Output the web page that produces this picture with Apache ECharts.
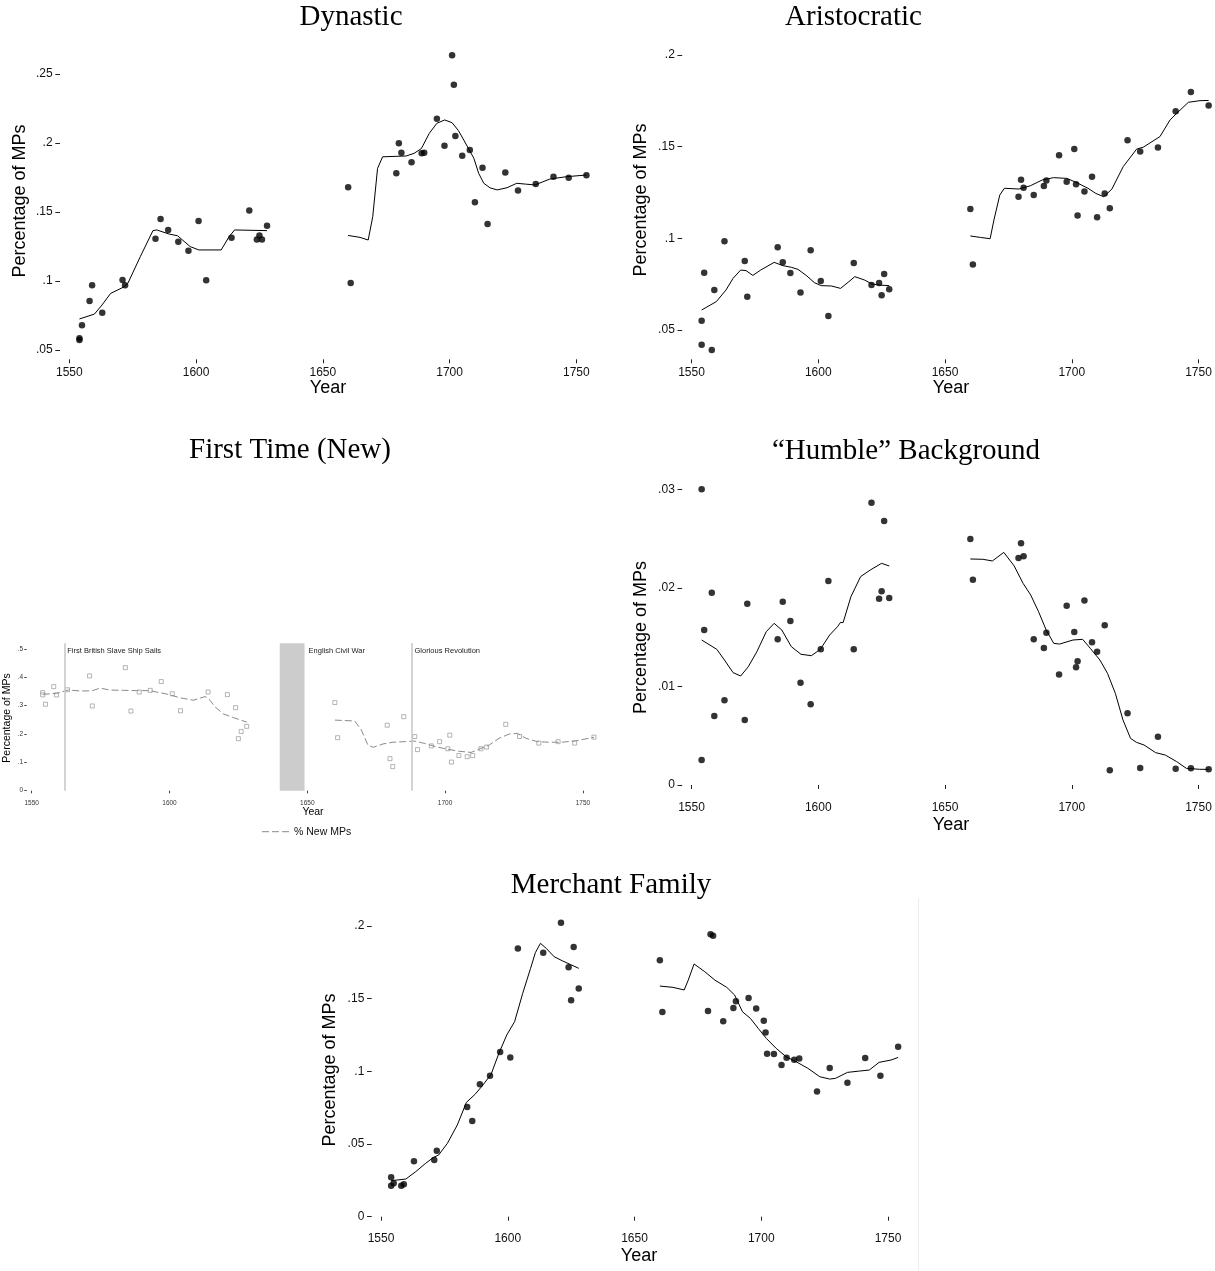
<!DOCTYPE html>
<html><head><meta charset="utf-8">
<script src="https://cdn.jsdelivr.net/npm/echarts@6/dist/echarts.min.js"></script>
<style>html,body{margin:0;padding:0;background:#fff}#c{width:1215px;height:1271px}</style>
</head><body><div id="c"></div>
<script>
// ---------- DATA ----------
const yearsL = [1554, 1554, 1555, 1558, 1559, 1563, 1571, 1572, 1584, 1586, 1589, 1593, 1597, 1601, 1604, 1614, 1621, 1624, 1625, 1626, 1628];
const yearsR = [1660, 1661, 1679, 1680, 1681, 1685, 1689, 1690, 1695, 1698, 1701, 1701.7, 1702.3, 1705, 1708, 1710, 1713, 1715, 1722, 1727, 1734, 1741, 1747, 1754];

const xTicks = [1550, 1600, 1650, 1700, 1750];
const dynTicks = [0.05, 0.1, 0.15, 0.2, 0.25];
const aristTicks = [0.05, 0.1, 0.15, 0.2];
const humTicks = [0, 0.01, 0.02, 0.03];
const merTicks = [0, 0.05, 0.1, 0.15, 0.2];
const ftTicks = [0, 0.1, 0.2, 0.3, 0.4, 0.5];

const dynL = [0.0585, 0.0572, 0.068, 0.0855, 0.097, 0.077, 0.1007, 0.097, 0.1307, 0.145, 0.137, 0.1285, 0.122, 0.1435, 0.1005, 0.1314, 0.151, 0.130, 0.133, 0.130, 0.140];
const dynR = [0.168, 0.0985, 0.178, 0.1998, 0.193, 0.186, 0.1925, 0.193, 0.2176, 0.198, 0.2635, 0.2423, 0.205, 0.1908, 0.195, 0.157, 0.182, 0.1413, 0.1787, 0.1655, 0.1703, 0.1756, 0.1749, 0.1766];
const dynLineL = [[1554,0.0725],[1559.9,0.076],[1562.9,0.0826],[1566.3,0.091],[1571.2,0.0954],[1573.1,0.0983],[1578,0.1176],[1583,0.1365],[1584.5,0.137],[1589.4,0.134],[1592.7,0.1328],[1597.7,0.1249],[1601.1,0.1225],[1609.9,0.1225],[1613,0.132],[1615.2,0.137],[1628,0.1365]];
const dynLineR = [[1660,0.133],[1664.7,0.1316],[1667.9,0.1297],[1669.7,0.1466],[1671.6,0.1816],[1673.6,0.190],[1682.9,0.1906],[1686,0.1925],[1688.9,0.196],[1692,0.207],[1695,0.2143],[1698.1,0.2167],[1701,0.2147],[1703.5,0.209],[1705.6,0.2022],[1709.6,0.1889],[1711.5,0.178],[1713.5,0.1708],[1716,0.1675],[1718.8,0.166],[1722.7,0.1676],[1726.5,0.1708],[1730,0.1702],[1733.7,0.1696],[1739.6,0.1739],[1746.2,0.1756],[1754,0.1768]];

const aristL = [0.0551, 0.042, 0.0813, 0.0391, 0.0718, 0.0984, 0.0876, 0.0682, 0.0951, 0.0869, 0.0811, 0.0705, 0.0935, 0.0767, 0.0576, 0.0865, 0.0745, 0.0756, 0.0689, 0.0805, 0.0722];
const aristR = [0.116, 0.0858, 0.1227, 0.132, 0.1276, 0.1236, 0.1285, 0.1316, 0.1453, 0.1309, 0.1487, 0.1295, 0.1125, 0.1255, 0.1336, 0.1115, 0.1245, 0.1164, 0.1535, 0.1473, 0.1495, 0.1693, 0.1798, 0.1724];
const aristLineL = [[1554,0.0609],[1559.8,0.0655],[1563.6,0.0718],[1566.4,0.0782],[1569.4,0.0827],[1571.5,0.0824],[1574.2,0.0798],[1577.3,0.0827],[1582.6,0.0869],[1586.1,0.0851],[1589.4,0.0842],[1592,0.0831],[1595.5,0.0795],[1598.5,0.0758],[1601.2,0.0742],[1605.3,0.074],[1608.8,0.0727],[1612.1,0.0764],[1614.4,0.0791],[1618.2,0.0773],[1621.2,0.0751],[1624.2,0.0745],[1628,0.0742]];
const aristLineR = [[1660,0.1013],[1664,0.1005],[1667.8,0.0998],[1669.3,0.110],[1671.6,0.1236],[1673.4,0.1273],[1679.2,0.1269],[1683.7,0.1287],[1688.3,0.1318],[1692.8,0.1331],[1698.1,0.1327],[1701.9,0.1304],[1706.4,0.1273],[1709.5,0.1245],[1712.6,0.1227],[1715.8,0.1268],[1720.3,0.1391],[1725.6,0.1487],[1728.2,0.1497],[1734.8,0.1555],[1738.8,0.1646],[1741.4,0.1682],[1746,0.1742],[1750.6,0.1751],[1754,0.1752]];

const humL = [0.0300, 0.00254, 0.01573, 0.0195, 0.0070, 0.0086, 0.0066, 0.0184, 0.01478, 0.0186, 0.01664, 0.01038, 0.0082, 0.01376, 0.0207, 0.01376, 0.02864, 0.0189, 0.01965, 0.02678, 0.01897];
const humR = [0.02496, 0.02083, 0.02303, 0.02452, 0.0232, 0.01478, 0.0139, 0.01545, 0.0112, 0.01819, 0.01552, 0.01194, 0.01255, 0.01873, 0.01447, 0.01353, 0.0162, 0.00149, 0.00727, 0.00172, 0.0049, 0.00166, 0.00169, 0.00159];
const humLineL = [[1554,0.01471],[1560,0.01376],[1563,0.01268],[1566.4,0.0114],[1569.4,0.01106],[1572.4,0.012],[1575.8,0.01353],[1579.5,0.01556],[1582.6,0.0164],[1585.6,0.01573],[1589.4,0.01403],[1593.2,0.01326],[1597.3,0.01312],[1600.8,0.01376],[1604.5,0.01522],[1607.6,0.01606],[1608.8,0.0165],[1609.8,0.01647],[1612.9,0.01911],[1616.7,0.02114],[1620.5,0.02181],[1625,0.02249],[1628,0.02222]];
const humLineR = [[1660,0.02293],[1664.9,0.0229],[1668.7,0.02273],[1673.2,0.0236],[1677.3,0.02222],[1680.8,0.02046],[1683.8,0.01928],[1686.9,0.01759],[1689.9,0.01573],[1692.9,0.01437],[1695.2,0.0143],[1700.5,0.01471],[1704.3,0.01478],[1707.3,0.01387],[1711.1,0.01268],[1714.1,0.01133],[1717.2,0.0093],[1720.2,0.0066],[1723.2,0.00473],[1725.5,0.00433],[1728.5,0.00406],[1733.1,0.00328],[1736.9,0.00304],[1741.4,0.00237],[1745.2,0.00169],[1750.5,0.00159],[1754,0.00159]];

const merL = [0.02706, 0.02133, 0.02294, 0.02133, 0.02225, 0.0381, 0.039, 0.0454, 0.0755, 0.0658, 0.0911, 0.097, 0.1133, 0.1096, 0.1846, 0.1817, 0.2023, 0.1716, 0.1489, 0.1856, 0.1571];
const merR = [0.1764, 0.1408, 0.1415, 0.1943, 0.1933, 0.1344, 0.1436, 0.1482, 0.1505, 0.1433, 0.1349, 0.1268, 0.1122, 0.1119, 0.1044, 0.1094, 0.108, 0.1089, 0.0862, 0.1023, 0.0922, 0.1092, 0.097, 0.117];
const merLineL = [[1554,0.0248],[1559.8,0.0259],[1563.7,0.031],[1567.6,0.0367],[1570.7,0.0408],[1572.7,0.0424],[1576.2,0.0505],[1580.1,0.0631],[1583.7,0.0787],[1587.1,0.0842],[1590.2,0.0906],[1593.4,0.0979],[1596.5,0.1124],[1599.6,0.125],[1602.7,0.1342],[1605.9,0.1537],[1609,0.1709],[1610.9,0.1817],[1612.9,0.1881],[1615.2,0.1846],[1618.3,0.1789],[1621.5,0.1761],[1624.6,0.1736],[1628,0.1709]];
const merLineR = [[1660,0.1587],[1665.2,0.1578],[1669.6,0.156],[1671.2,0.1628],[1673.5,0.1739],[1677.7,0.1686],[1681.7,0.1628],[1686.4,0.1578],[1689.5,0.1525],[1692.6,0.141],[1695.7,0.1365],[1698.8,0.1296],[1702,0.1227],[1705.9,0.1158],[1709.8,0.1101],[1713.7,0.1067],[1718.4,0.1021],[1723.1,0.0963],[1727,0.0947],[1729.3,0.0952],[1734,0.0993],[1738.7,0.1002],[1742.6,0.1009],[1746.5,0.1062],[1751.2,0.1078],[1754,0.1096]];

const ftL = [0.346, 0.338, 0.305, 0.367, 0.338, 0.356, 0.405, 0.299, 0.434, 0.281, 0.348, 0.354, 0.385, 0.342, 0.282, 0.348, 0.339, 0.293, 0.1835, 0.209, 0.227];
const ftR = [0.311, 0.187, 0.231, 0.113, 0.085, 0.261, 0.191, 0.145, 0.158, 0.173, 0.148, 0.196, 0.101, 0.124, 0.12, 0.124, 0.148, 0.154, 0.234, 0.191, 0.168, 0.173, 0.168, 0.189];
const ftLineL = [[1554,0.34],[1559,0.3435],[1563.3,0.355],[1567.5,0.352],[1571.8,0.352],[1574.8,0.362],[1578.4,0.355],[1583.3,0.354],[1588.1,0.353],[1592.9,0.353],[1595.3,0.348],[1599,0.341],[1603.8,0.328],[1608.6,0.319],[1612.9,0.332],[1614.1,0.326],[1616.5,0.296],[1619.5,0.271],[1623.2,0.258],[1628,0.242]];
const ftLineR = [[1660,0.249],[1667.2,0.246],[1669.6,0.214],[1672,0.161],[1673.9,0.153],[1677.5,0.165],[1681.1,0.171],[1685.3,0.173],[1688.9,0.175],[1692.5,0.167],[1696.7,0.155],[1701,0.146],[1705.2,0.139],[1709.4,0.135],[1713,0.149],[1716,0.161],[1719.6,0.185],[1723.3,0.2],[1726.3,0.202],[1729.3,0.185],[1733.5,0.173],[1737.7,0.171],[1742.5,0.171],[1747.3,0.176],[1754,0.188]];

const eventLines = [1562, 1688];
const eventLineLabels = ['First British Slave Ship Sails', 'Glorious Revolution'];
const civilWar = [1640, 1649];
const civilWarLabel = 'English Civil War';

const panelTitles = ['Dynastic', 'Aristocratic', 'First Time (New)', '\u201CHumble\u201D Background', 'Merchant Family'];
const yTitle = 'Percentage of MPs';
const xTitle = 'Year';
const legendLabel = '% New MPs';

// ---------- CHART ----------
const SANS = '"Liberation Sans", Arial, Helvetica, sans-serif';
const SERIF = '"Liberation Serif", "Times New Roman", serif';
const pairs = (xs, ys) => xs.map((x, i) => [x, ys[i]]);
const yFmt = v => Math.abs(v) < 1e-9 ? '0' : String(+v.toFixed(4)).replace(/^0\./, '.');

const PX = 2.535; // px per year in main panels
const grids = [
  {left: 69.3, top: 46.4, width: 206 * PX, height: 303.6},     // Dynastic
  {left: 691.5, top: 55, width: 206 * PX, height: 295},        // Aristocratic
  {left: 31.7, top: 643.3, width: 206 * 2.756, height: 147.4}, // First time
  {left: 691.5, top: 489.3, width: 206 * PX, height: 295.7},   // Humble
  {left: 381, top: 922.4, width: 206 * PX, height: 294.3}      // Merchant
];
const yRanges = [[0.05, 0.27, dynTicks], [0.0391, 0.2, aristTicks], [0, 0.52, ftTicks], [0, 0.03, humTicks], [0, 0.2025, merTicks]];

function xAxisCfg(gi, small) {
  return {
    type: 'value', gridIndex: gi, min: 1550, max: 1756, position: 'bottom',
    offset: small ? 4.3 : 9.3,
    axisLine: {show: false}, splitLine: {show: false},
    axisTick: {show: true, length: small ? 2.6 : 4, lineStyle: {color: small ? '#444' : '#222', width: 1}, customValues: xTicks},
    axisLabel: {margin: small ? 4.4 : 7, fontSize: small ? 6.5 : 12, fontFamily: SANS, color: small ? '#333' : '#111', customValues: xTicks, formatter: v => String(v)}
  };
}
function yAxisCfg(gi, small) {
  const r = yRanges[gi];
  return {
    type: 'value', gridIndex: gi, min: r[0], max: r[1], position: 'left',
    offset: small ? 5 : 9.3,
    axisLine: {show: false}, splitLine: {show: false},
    axisTick: {show: true, length: small ? 2.4 : 4.7, lineStyle: {color: small ? '#444' : '#222', width: 1}, customValues: r[2]},
    axisLabel: {margin: small ? 3.6 : 7.4, fontSize: small ? 6.5 : 12, fontFamily: SANS, color: small ? '#333' : '#111', customValues: r[2], formatter: yFmt}
  };
}

const mainSets = [[dynL, dynR, dynLineL, dynLineR], [aristL, aristR, aristLineL, aristLineR], null, [humL, humR, humLineL, humLineR], [merL, merR, merLineL, merLineR]];
const series = [];
mainSets.forEach((s, gi) => {
  if (!s) return;
  series.push({type: 'scatter', xAxisIndex: gi, yAxisIndex: gi, data: pairs(yearsL, s[0]), symbol: 'circle', symbolSize: 6.5, itemStyle: {color: '#000'}, clip: false, silent: true});
  series.push({type: 'scatter', xAxisIndex: gi, yAxisIndex: gi, data: pairs(yearsR, s[1]), symbol: 'circle', symbolSize: 6.5, itemStyle: {color: '#000'}, clip: false, silent: true});
  series.push({type: 'line', xAxisIndex: gi, yAxisIndex: gi, data: s[2], symbol: 'none', lineStyle: {color: '#000', width: 1}, clip: false, silent: true});
  series.push({type: 'line', xAxisIndex: gi, yAxisIndex: gi, data: s[3], symbol: 'none', lineStyle: {color: '#000', width: 1}, clip: false, silent: true});
});
// First time panel
const sq = {type: 'scatter', xAxisIndex: 2, yAxisIndex: 2, symbol: 'rect', symbolSize: 4, itemStyle: {color: '#fff', borderColor: '#8a8a8a', borderWidth: 0.8}, clip: false, silent: true, z: 3};
series.push({type: 'line', xAxisIndex: 2, yAxisIndex: 2, data: [], symbol: 'none', silent: true,
  markLine: {silent: true, symbol: 'none', label: {show: false}, lineStyle: {color: '#c8c8c8', width: 1.6, type: 'solid'}, data: eventLines.map(v => ({xAxis: v}))},
  markArea: {silent: true, itemStyle: {color: '#cccccc'}, data: [[{xAxis: civilWar[0]}, {xAxis: civilWar[1]}]]}
});
series.push(Object.assign({data: pairs(yearsL, ftL)}, sq));
series.push(Object.assign({data: pairs(yearsR, ftR)}, sq));
const dl = {type: 'line', xAxisIndex: 2, yAxisIndex: 2, symbol: 'none', lineStyle: {color: '#8a8a8a', width: 1, type: [7, 3]}, clip: false, silent: true, z: 4};
series.push(Object.assign({data: ftLineL}, dl));
series.push(Object.assign({data: ftLineR}, dl));

const chart = echarts.init(document.getElementById('c'), null, {renderer: 'canvas'});
chart.setOption({
  animation: false,
  backgroundColor: '#fff',
  grid: grids.map(g => Object.assign({containLabel: false}, g)),
  xAxis: [0, 1, 2, 3, 4].map(i => xAxisCfg(i, i === 2)),
  yAxis: [0, 1, 2, 3, 4].map(i => yAxisCfg(i, i === 2)),
  series: series
});

// ---------- TEXT / DECORATIONS ----------
const T = (text, x, y, font, opts) => Object.assign({type: 'text', silent: true, x: x, y: y,
  style: {text: text, font: font, fill: '#000', align: 'center', verticalAlign: 'middle'}}, opts || {});
const titleFont = '29px ' + SERIF;
const axFont = '18px ' + SANS;
const smallAx = '10.5px ' + SANS;
const g = [];
// panel titles
g.push(T(panelTitles[0], 351, 17, titleFont));
g.push(T(panelTitles[1], 853.5, 17, titleFont));
g.push(T(panelTitles[2], 290, 450, titleFont));
g.push(T(panelTitles[3], 906, 451, titleFont));
g.push(T(panelTitles[4], 611, 885, titleFont));
// x titles
g.push(T(xTitle, 328, 388, axFont));
g.push(T(xTitle, 951, 388, axFont));
g.push(T(xTitle, 951, 825, axFont));
g.push(T(xTitle, 639, 1256.5, axFont));
g.push(T(xTitle, 313, 812.3, smallAx));
// y titles
const rot = Math.PI / 2;
g.push(Object.assign(T(yTitle, 20, 201, axFont), {rotation: rot}));
g.push(Object.assign(T(yTitle, 641, 200, axFont), {rotation: rot}));
g.push(Object.assign(T(yTitle, 641, 637.5, axFont), {rotation: rot}));
g.push(Object.assign(T(yTitle, 330, 1070, axFont), {rotation: rot}));
g.push(Object.assign(T(yTitle, 7.5, 718, smallAx), {rotation: rot}));
// event labels (positioned through the axis scale)
const top2 = yRanges[2][1];
const annFont = '7.5px ' + SANS;
eventLines.forEach((yr, i) => {
  const p = chart.convertToPixel({gridIndex: 2}, [yr, top2]);
  g.push({type: 'text', silent: true, x: p[0] + 2.5, y: p[1] + 7.3, style: {text: eventLineLabels[i], font: annFont, fill: '#222', align: 'left', verticalAlign: 'middle'}});
});
const pc = chart.convertToPixel({gridIndex: 2}, [civilWar[1], top2]);
g.push({type: 'text', silent: true, x: pc[0] + 4, y: pc[1] + 7.3, style: {text: civilWarLabel, font: annFont, fill: '#222', align: 'left', verticalAlign: 'middle'}});
// legend for first-time panel
g.push({type: 'line', silent: true, shape: {x1: 262, y1: 831.7, x2: 290, y2: 831.7}, style: {stroke: '#8a8a8a', lineWidth: 1, lineDash: [7, 3]}});
g.push({type: 'text', silent: true, x: 294, y: 831.7, style: {text: legendLabel, font: smallAx, fill: '#111', align: 'left', verticalAlign: 'middle'}});
// faint border of merchant sub-graph
g.push({type: 'line', silent: true, shape: {x1: 918.5, y1: 898, x2: 918.5, y2: 1271}, style: {stroke: '#ececec', lineWidth: 1}});
chart.setOption({graphic: g});
</script></body></html>
